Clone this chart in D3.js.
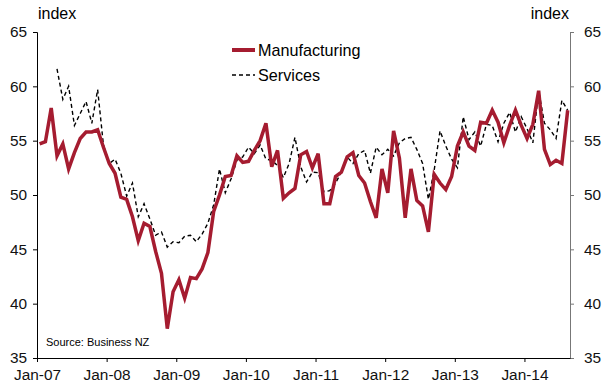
<!DOCTYPE html>
<html>
<head>
<meta charset="utf-8">
<script src="https://cdn.jsdelivr.net/npm/d3@7"></script>
<style>
  body { margin: 0; background: #fff; }
  svg { font-family: "Liberation Sans", Arial, sans-serif; }
</style>
</head>
<body>
<script>
// monthly values, Jan-07 .. Aug-14 (index 0 = Jan-07)
const manufacturing = [
  54.7, 54.9, 58.0, 53.6, 54.7, 52.4, 53.9, 55.2, 55.8, 55.8, 56.0, 54.4,
  52.9, 52.0, 49.8, 49.6, 48.0, 45.8, 47.4, 47.1, 44.8, 42.8, 37.7, 41.1,
  42.2, 40.5, 42.4, 42.3, 43.2, 44.7, 48.5, 50.0, 51.7, 51.8, 53.6, 53.0,
  53.1, 54.1, 55.0, 56.6, 52.6, 54.1, 49.7, 50.2, 50.6, 53.7, 54.0, 52.5,
  53.8, 49.2, 49.2, 51.7, 52.1, 53.5, 53.9, 51.8, 51.1, 49.4, 47.9, 52.4,
  50.2, 55.9, 53.4, 47.9, 52.4, 49.5, 49.0, 46.6, 51.9, 51.1, 50.5, 51.7,
  54.5, 55.8, 54.5, 54.1, 56.7, 56.6, 57.8, 56.7, 54.8, 56.4, 57.8, 56.4,
  55.2, 56.5, 59.6, 54.2, 52.8, 53.2, 52.9, 57.8
];
const services = [
  null, null, null, 61.6, 58.8, 60.0, 56.4, 57.5, 58.6, 56.6, 59.7, 54.6,
  52.9, 53.3, 52.0, 49.9, 51.1, 48.0, 49.2, 47.8, 46.3, 46.6, 45.2, 45.7,
  45.6, 46.2, 46.3, 45.7, 46.4, 47.4, 49.1, 52.4, 50.2, 51.5, 53.2, 53.5,
  54.4, 53.8, 54.6, 53.3, 53.2, 52.7, 51.6, 52.9, 55.3, 52.6, 51.2, 52.1,
  52.05, 50.3, 50.4, 51.1, 52.1, 53.5, 52.9, 53.8, 54.1, 52.0, 54.4, 53.7,
  54.2, 53.6, 54.8, 55.2, 55.3, 54.2, 52.9, 49.6, 52.3, 55.9, 54.5, 53.3,
  52.5, 57.2, 55.1, 55.8, 54.5, 56.5, 56.4, 54.9, 56.6, 57.6, 55.8, 57.2,
  56.1, 54.8, 59.6, 56.6, 56.0, 55.2, 58.7, 57.8
];
const xTickLabels = ["Jan-07", "Jan-08", "Jan-09", "Jan-10", "Jan-11", "Jan-12", "Jan-13", "Jan-14"];
const yTicks = [35, 40, 45, 50, 55, 60, 65];
const seriesNames = ["Manufacturing", "Services"];

const width = 602, height = 390;
const margin = {top: 32, right: 32, bottom: 32, left: 37};
const red = "#a51c30";

const svg = d3.select("body").append("svg").attr("width", width).attr("height", height);

// months since Jan-07; points sit roughly mid-month
const x = d3.scaleLinear().domain([0, 91.85]).range([margin.left, width - margin.right]);
const y = d3.scaleLinear().domain([35, 65]).range([height - margin.bottom, margin.top]);
const monthX = i => x(i + 0.45);

// left axis
const yLeft = svg.append("g").attr("transform", `translate(${margin.left},0)`)
  .call(d3.axisLeft(y).tickValues(yTicks).tickSize(4).tickPadding(6));
yLeft.select(".domain").attr("stroke", "#000");

// right axis
const yRight = svg.append("g").attr("transform", `translate(${width - margin.right},0)`)
  .call(d3.axisRight(y).tickValues(yTicks).tickSize(4).tickPadding(10));
yRight.selectAll(".domain, line").attr("stroke", "#777");

// x axis
const xAxis = svg.append("g").attr("transform", `translate(0,${height - margin.bottom})`)
  .call(d3.axisBottom(x).tickValues(xTickLabels.map((d, i) => i * 12))
    .tickFormat((d, i) => xTickLabels[i]).tickSize(4).tickSizeOuter(0).tickPadding(7));
xAxis.select(".domain").attr("stroke", "#000");

svg.selectAll(".tick text").attr("font-size", 15.4).attr("fill", "#111")
  .style("font-family", "Liberation Sans, Arial, sans-serif");

// axis titles
svg.append("text").attr("x", margin.left + 1).attr("y", 19).attr("font-size", 16).text("index");
svg.append("text").attr("x", width - margin.right - 1).attr("y", 19).attr("font-size", 16)
  .attr("text-anchor", "end").text("index");

// lines
const line = arr => d3.line()
  .defined(d => d != null)
  .x((d, i) => monthX(i))
  .y(d => y(d))(arr);

svg.append("path").attr("d", line(services))
  .attr("fill", "none").attr("stroke", "#000").attr("stroke-width", 1.4)
  .attr("stroke-dasharray", "4,3");

svg.append("path").attr("d", line(manufacturing))
  .attr("fill", "none").attr("stroke", red).attr("stroke-width", 3.5)
  .attr("stroke-linejoin", "miter");

// legend
const legend = svg.append("g").attr("transform", "translate(232,50)");
legend.append("line").attr("x1", 0).attr("x2", 23).attr("y1", 0).attr("y2", 0)
  .attr("stroke", red).attr("stroke-width", 4);
legend.append("line").attr("x1", 0).attr("x2", 23).attr("y1", 25).attr("y2", 25)
  .attr("stroke", "#000").attr("stroke-width", 1.4).attr("stroke-dasharray", "4,3");
legend.selectAll("text.lab").data(seriesNames).join("text")
  .attr("x", 26).attr("y", (d, i) => i * 25 + 6).attr("font-size", 16.2).text(d => d);

// source note
svg.append("text").attr("x", 46).attr("y", 346).attr("font-size", 11).text("Source: Business NZ");
</script>
</body>
</html>
